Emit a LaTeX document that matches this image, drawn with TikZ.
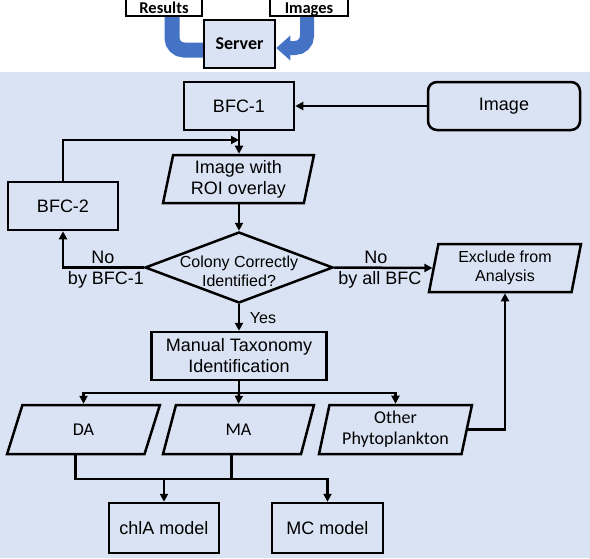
\documentclass[tikz,border=0pt]{standalone}
\usepackage{fontspec}
\setmainfont{Liberation Sans}
\newfontfamily\carlito{Carlito}
\usetikzlibrary{arrows.meta,shapes.geometric,backgrounds,calc}
\definecolor{bgblue}{HTML}{DAE3F3}
\definecolor{bandblue}{HTML}{4472C4}
\begin{document}
\begin{tikzpicture}[x=1pt,y=-1pt,
  lw/.style={line width=2.5pt},
  flow/.style={lw,-{Triangle[length=8pt,width=8pt]}},
  boxn/.style={draw,lw,inner sep=0pt,align=center,font=\fontsize{18}{21}\selectfont},
  paraA/.style={boxn,trapezium,trapezium stretches=true,trapezium left angle=79,trapezium right angle=101},
  paraB/.style={boxn,trapezium,trapezium stretches=true,trapezium left angle=77,trapezium right angle=103,font=\carlito\fontsize{18}{21}\selectfont},
  topbox/.style={draw,line width=2.5pt,inner sep=0pt,font=\carlito\bfseries\fontsize{16.5}{19}\selectfont},
  lbl/.style={inner sep=0pt,font=\fontsize{18}{21}\selectfont},
  band/.style={bandblue,line width=15pt,rounded corners=12pt}]
\useasboundingbox (0,0) rectangle (590,558);

% top part
\node[topbox,fill=white,minimum width=76pt,minimum height=24pt,text height=18pt,text depth=0pt] (results) at (164,4) {Results};
\node[topbox,fill=white,minimum width=78pt,minimum height=24pt,text height=18pt,text depth=0pt] (images) at (309,4) {Images};
\node[topbox,fill=bgblue,minimum width=71pt,minimum height=48pt,font=\carlito\bfseries\fontsize{18}{21}\selectfont] (server) at (239.5,44) {Server};

\begin{scope}[on background layer]
\fill[bgblue] (0,72) rectangle (590,558);
\draw[band] ([xshift=8pt]results.center) |- ([yshift=-6pt]server.west);
\draw[band,line width=14pt,-{Triangle[length=14pt,width=24pt]}] ([xshift=-2pt]images.center) |- ([yshift=-4pt]server.east);
\end{scope}

% flowchart nodes
\node[boxn,minimum width=110pt,minimum height=48pt] (bfc1) at (239,106) {BFC-1};
\node[boxn,rounded corners=9pt,minimum width=152pt,minimum height=48pt] (image) at (504,106) {Image};
\node[paraA,minimum width=151pt,minimum height=48pt] (roi) at (238.5,179) {Image with\\ROI overlay};
\node[boxn,minimum width=110pt,minimum height=48pt] (bfc2) at (63,206) {BFC-2};
\node[diamond,draw,lw,inner sep=0pt,minimum width=188pt,minimum height=71pt] (dec) at (239,267.5) {};
\node[align=center,inner sep=0pt,font=\fontsize{16}{19}\selectfont] (dectext) at (239,271) {Colony Correctly\\Identified?};
\node[paraA,minimum width=152pt,minimum height=48pt,font=\fontsize{16}{19}\selectfont] (exclude) at (505,268) {Exclude from\\Analysis};
\node[boxn,minimum width=175pt,minimum height=48pt] (manual) at (239,356) {Manual Taxonomy\\Identification};
\node[paraB,minimum width=153pt,minimum height=49pt] (da) at (83.5,429.5) {DA};
\node[paraB,minimum width=151pt,minimum height=49pt] (ma) at (238.5,429.5) {MA};
\node[paraB,minimum width=153pt,minimum height=49pt] (other) at (395.5,429.5) {Other\\Phytoplankton};
\node[boxn,minimum width=110pt,minimum height=50pt] (chla) at (164,528) {chlA model};
\node[boxn,minimum width=111pt,minimum height=50pt] (mc) at (327.5,528) {MC model};

% labels
\node[lbl] (no1) at (103,257) {No};
\node[lbl] (by1) at (106,280) {by BFC-1};
\node[lbl] (no2) at (376,257) {No};
\node[lbl] (by2) at (380,280) {by all BFC};
\node[lbl,font=\fontsize{16}{19}\selectfont] (yes) at (263,318) {Yes};

% connectors
\coordinate (fb) at (239,140);
\coordinate (bus) at (239,393);
\coordinate (jn) at (0,479);
\coordinate (dab) at ($(da.bottom left corner)!0.5!(da.bottom right corner)$);
\coordinate (mab) at ($(ma.bottom left corner)!0.5!(ma.bottom right corner)$);
\draw[flow] (image.west) -- (bfc1.east);
\draw[flow] (bfc1.south) -- (bfc1.south |- roi.north);
\draw[flow] (bfc2.north) |- (fb);
\draw[flow] (dec.north |- roi.south) -- (dec.north);
\draw[flow] (dec.west) -| (bfc2.south);
\draw[flow] (dec.east) -- (exclude.west);
\draw[flow] (dec.south) -- (manual.north);
\draw[lw] (manual.south) -- (bus);
\draw[flow] (bus) -| (da.center |- da.north);
\draw[flow] (bus) -- (ma.center |- ma.north);
\draw[flow] (bus) -| (other.center |- other.north);
\draw[flow] (other.east) -| (exclude.south);
\draw[flow] (dab) |- (mc.north |- jn) -- (mc.north);
\draw[lw] (mab) -- (mab |- jn);
\draw[flow] (chla.north |- jn) -- (chla.north);
\end{tikzpicture}
\end{document}
